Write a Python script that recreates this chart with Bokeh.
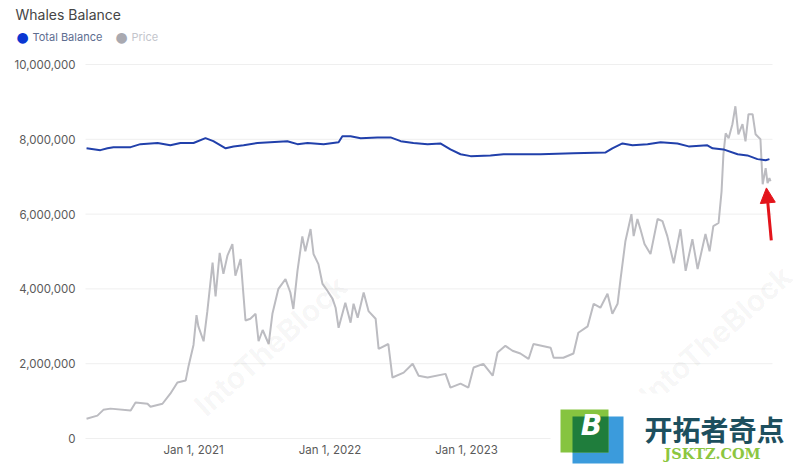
import pandas as pd
from bokeh.plotting import figure
from bokeh.models import (Range1d, Label, BoxAnnotation, Arrow, NormalHead, ColumnDataSource)
from bokeh.embed import file_html
from bokeh.resources import INLINE

# ---------------- data ----------------
balance_dates = [
    "2020-03-21", "2020-04-27", "2020-05-16", "2020-06-01", "2020-07-17", "2020-08-12",
    "2020-09-27", "2020-10-31", "2020-11-27", "2021-01-01", "2021-02-02", "2021-02-23",
    "2021-03-28", "2021-04-18", "2021-05-15", "2021-06-21", "2021-09-09", "2021-10-06",
    "2021-11-02", "2021-12-15", "2022-01-24", "2022-02-03", "2022-02-25", "2022-03-24",
    "2022-05-08", "2022-06-12", "2022-07-09", "2022-08-12", "2022-09-19", "2022-10-23",
    "2022-11-19", "2022-12-16", "2023-01-12", "2023-03-06", "2023-04-10", "2023-07-18",
    "2023-10-14", "2024-01-08", "2024-01-26", "2024-02-22", "2024-03-20", "2024-04-29",
    "2024-06-03", "2024-07-18", "2024-08-17", "2024-10-06", "2024-10-20", "2024-11-18",
    "2024-12-26", "2025-01-21", "2025-02-17", "2025-03-11", "2025-03-21",
]
balance_values = [
    7760000, 7710000, 7760000, 7790000, 7790000, 7870000,
    7900000, 7840000, 7900000, 7900000, 8030000, 7950000,
    7760000, 7810000, 7840000, 7900000, 7950000, 7870000,
    7900000, 7870000, 7920000, 8080000, 8080000, 8030000,
    8050000, 8050000, 7950000, 7900000, 7870000, 7890000,
    7730000, 7600000, 7550000, 7570000, 7600000, 7600000,
    7630000, 7650000, 7760000, 7890000, 7840000, 7870000,
    7920000, 7890000, 7810000, 7840000, 7760000, 7730000,
    7600000, 7570000, 7470000, 7440000, 7470000,
]

price_dates = [
    "2020-03-21", "2020-04-19", "2020-05-05", "2020-05-24", "2020-07-17", "2020-07-30",
    "2020-08-31", "2020-09-08", "2020-10-10", "2020-10-31", "2020-11-19", "2020-12-11",
    "2020-12-19", "2021-01-01", "2021-01-09", "2021-01-14", "2021-01-28", "2021-02-07",
    "2021-02-21", "2021-03-01", "2021-03-12", "2021-03-22", "2021-04-02", "2021-04-15",
    "2021-04-23", "2021-05-07", "2021-05-20", "2021-06-02", "2021-06-16", "2021-06-24",
    "2021-07-05", "2021-07-21", "2021-07-31", "2021-08-16", "2021-09-04", "2021-09-17",
    "2021-09-25", "2021-10-06", "2021-10-19", "2021-10-27", "2021-11-10", "2021-11-18",
    "2021-12-01", "2021-12-12", "2021-12-25", "2022-01-08", "2022-01-16", "2022-01-24",
    "2022-02-11", "2022-02-25", "2022-03-05", "2022-03-16", "2022-04-01", "2022-04-14",
    "2022-05-03", "2022-05-11", "2022-06-06", "2022-06-17", "2022-07-17", "2022-08-10",
    "2022-08-26", "2022-09-19", "2022-11-06", "2022-11-19", "2022-12-16", "2023-01-06",
    "2023-01-20", "2023-02-15", "2023-03-12", "2023-03-25", "2023-04-15", "2023-05-04",
    "2023-05-25", "2023-06-16", "2023-06-29", "2023-08-14", "2023-08-22", "2023-09-17",
    "2023-10-14", "2023-10-27", "2023-11-21", "2023-12-07", "2023-12-25", "2024-01-13",
    "2024-01-26", "2024-02-09", "2024-02-17", "2024-03-01", "2024-03-17", "2024-03-23",
    "2024-04-02", "2024-04-10", "2024-04-21", "2024-05-07", "2024-05-26", "2024-06-08",
    "2024-06-21", "2024-07-08", "2024-07-26", "2024-08-09", "2024-08-27", "2024-09-10",
    "2024-10-01", "2024-10-12", "2024-10-22", "2024-11-05", "2024-11-13", "2024-11-18",
    "2024-11-24", "2024-12-02", "2024-12-12", "2024-12-20", "2024-12-28", "2025-01-08",
    "2025-01-16", "2025-01-24", "2025-02-04", "2025-02-12", "2025-02-25", "2025-03-03",
    "2025-03-11", "2025-03-16", "2025-03-21", "2025-03-24",
]
price_values = [
    6500, 7500, 9400, 9800, 9200, 11800,
    11400, 10400, 11400, 14700, 18400, 19000,
    23900, 30700, 40500, 36800, 31900, 41700,
    57700, 46600, 60900, 54000, 60100, 63800,
    53400, 58900, 38700, 39300, 40900, 31900,
    35600, 31000, 40900, 49100, 52300, 47900,
    42500, 55000, 66300, 61400, 68700, 60500,
    57200, 50700, 48500, 45800, 42900, 36300,
    44500, 38000, 44200, 39600, 47900, 41800,
    39300, 29400, 31000, 20000, 21600, 24500,
    20600, 20000, 21200, 16700, 18000, 16700,
    23300, 24500, 20600, 28200, 30400, 28800,
    27900, 26100, 31000, 29800, 26500, 26500,
    27900, 34700, 36800, 44200, 42900, 47500,
    40900, 44200, 52400, 64800, 73600, 66400,
    72000, 68700, 63800, 60500, 72000, 71300,
    66400, 57500, 68700, 55000, 65400, 55600,
    67100, 61400, 69700, 70700, 81000, 93300,
    100100, 98500, 103100, 109000, 99800, 103100,
    97500, 106400, 106400, 99800, 98200, 83400,
    88700, 83800, 85400, 84400,
]

y_ticks = [0, 2000000, 4000000, 6000000, 8000000, 10000000]
x_tick_dates = ["2021-01-01", "2022-01-01", "2023-01-01"]
series_names = ["Total Balance", "Price"]
title_text = "Whales Balance"

# ---------------- layout (pixels of the 800x467 picture) ----------------
W, H = 800, 467
PX_Y0, PX_Y10M = 438, 64          # pixel rows of value 0 and 10,000,000
PX_JAN2021, PX_PER_YEAR = 193, 136.5
PLOT_LEFT, PLOT_RIGHT = 85, 772
PRICE_SCALE = 81.5                # chart units per USD of the (hidden) price axis

DAY_MS = 86400000.0
def ms(d):
    return pd.Timestamp(d).value / 1e6

v_per_px = 1e7 / (PX_Y0 - PX_Y10M)
ms_per_px = 365 * DAY_MS / PX_PER_YEAR
anchor = ms("2021-01-01")
def xdata(px):
    return anchor + (px - PX_JAN2021) * ms_per_px

y_lo, y_hi = -(H - PX_Y0) * v_per_px, PX_Y0 * v_per_px

p = figure(width=W, height=H, output_backend="svg", toolbar_location=None,
           x_axis_location=None, y_axis_location=None,
           x_range=Range1d(xdata(0), xdata(W)), y_range=Range1d(y_lo, y_hi),
           min_border=0, min_border_left=0, min_border_right=0,
           min_border_top=0, min_border_bottom=0)
p.extra_y_ranges = {"price": Range1d(y_lo / PRICE_SCALE, y_hi / PRICE_SCALE)}
p.outline_line_color = None
p.background_fill_color = "white"
p.border_fill_color = "white"
p.grid.visible = False

# horizontal grid lines at the y ticks
x_left, x_right = xdata(PLOT_LEFT), xdata(PLOT_RIGHT)
p.segment(x0=[x_left] * len(y_ticks), x1=[x_right] * len(y_ticks), y0=y_ticks, y1=y_ticks,
          line_color="#efefef", line_width=1)

# series
price_src = ColumnDataSource(dict(date=[ms(d) for d in price_dates], value=price_values))
bal_src = ColumnDataSource(dict(date=[ms(d) for d in balance_dates], value=balance_values))
p.line("date", "value", source=price_src, y_range_name="price",
       line_color="#bcbcc1", line_width=2)
p.line("date", "value", source=bal_src, line_color="#2140ab", line_width=2)

# tick labels
p.text(x=[x_left] * len(y_ticks), y=y_ticks, text=[f"{v:,}" for v in y_ticks],
       x_offset=-10, text_align="right", text_baseline="middle",
       text_font={"value": "Inter"}, text_font_size="11.5px", text_color="#5a5a5a")
p.text(x=[ms(d) for d in x_tick_dates], y=[0] * len(x_tick_dates),
       text=[pd.Timestamp(d).strftime("%b %-d, %Y") for d in x_tick_dates],
       y_offset=11, text_align="center", text_baseline="middle",
       text_font={"value": "Inter"}, text_font_size="11.5px", text_color="#5a5a5a")

# red arrow annotation
p.add_layout(Arrow(end=NormalHead(size=15, fill_color="#e3141b", line_color="#e3141b"),
                   x_start=ms("2025-03-26"), y_start=5300000,
                   x_end=ms("2025-03-13"), y_end=6700000,
                   line_color="#e3141b", line_width=3))

def lab(px, py, text, **kw):
    p.add_layout(Label(x=px, y=H - py, x_units="screen", y_units="screen", text=text, **kw))

# faint watermarks
for (wx, wy) in [(270, 345), (715, 335)]:
    lab(wx, wy, "IntoTheBlock", angle=0.73, text_align="center", text_baseline="middle",
        text_font="Inter", text_font_size="30px", text_font_style="bold",
        text_color="#000000", text_alpha=0.045)

# title + legend
lab(15, 14, title_text, text_baseline="middle", text_font="Inter",
    text_font_size="14px", text_color="#454545")
lab(22, 36, "●", text_align="center", text_baseline="middle", text_font="DejaVu Sans",
    text_font_size="14px", text_color="#0a36d2")
lab(32, 36, series_names[0], text_baseline="middle", text_font="Inter",
    text_font_size="11px", text_color="#5d6d8f")
lab(121, 36, "●", text_align="center", text_baseline="middle", text_font="DejaVu Sans",
    text_font_size="14px", text_color="#a9a9b0")
lab(131, 36, series_names[1], text_baseline="middle", text_font="Inter",
    text_font_size="11px", text_color="#c3c5cc")

# site logo overlay (bottom right)
def box(l, t, r, b, color):
    p.add_layout(BoxAnnotation(left=l, right=r, top=H - t, bottom=H - b,
                               left_units="screen", right_units="screen",
                               top_units="screen", bottom_units="screen",
                               fill_color=color, fill_alpha=1.0, line_color=None))

box(550, 393, 800, 467, "white")
box(572, 416, 623, 463, "#3b9bdc")
box(560, 409, 608, 452, "#86c440")
box(572, 416, 608, 452, "#1f7d3c")
lab(591, 425, "B", text_align="center", text_baseline="middle", text_font="DejaVu Sans",
    text_font_size="28px", text_font_style="bold italic", text_color="white")
lab(714, 428, "开拓者奇点", text_align="center", text_baseline="middle",
    text_font="Noto Sans CJK SC", text_font_size="28px", text_font_style="bold",
    text_color="#1d4f5e")
lab(712, 453, "JSKTZ.COM", text_align="center", text_baseline="middle",
    text_font="DejaVu Serif", text_font_size="14.5px", text_font_style="bold",
    text_color="#8cc63f")

open("out.html", "w").write(file_html(p, INLINE))
